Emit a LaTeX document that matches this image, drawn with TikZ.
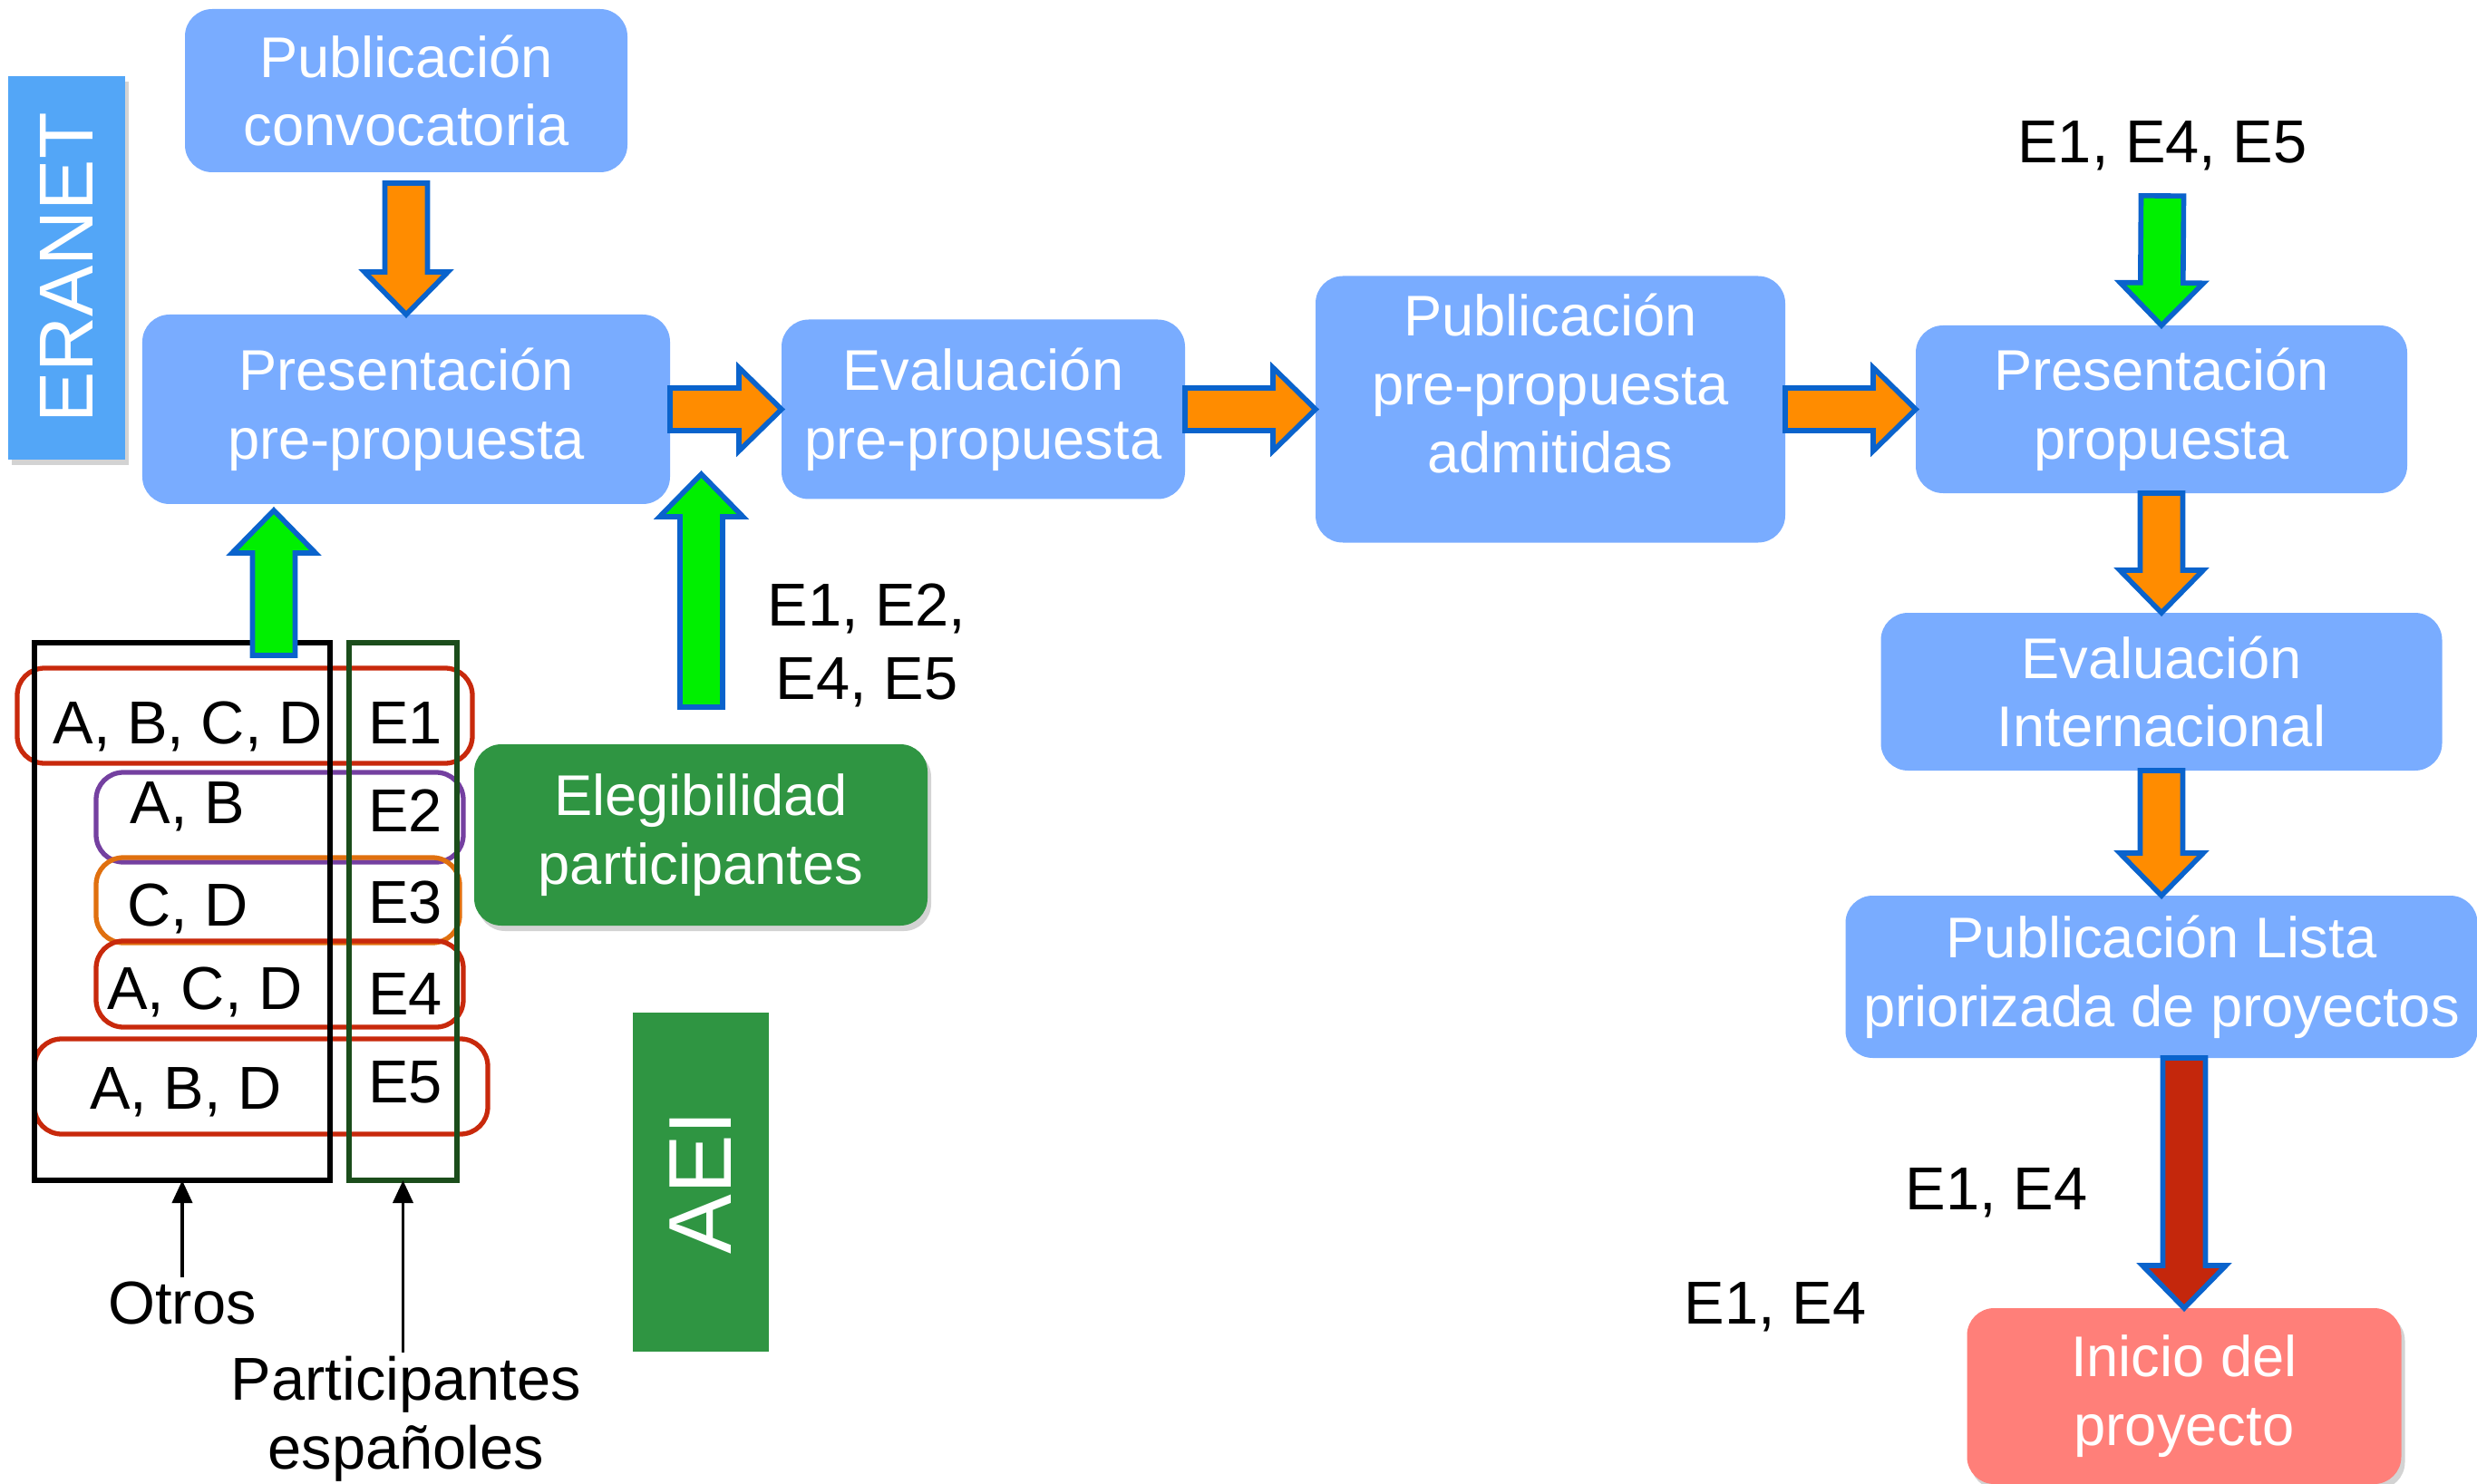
\documentclass[tikz,border=0pt]{standalone}
\usepackage{fontspec}
\setmainfont{Liberation Sans}
\usetikzlibrary{positioning, calc, arrows.meta, shadows}

\definecolor{boxblue}{HTML}{79ACFF}
\definecolor{eranetblue}{HTML}{53A6F7}
\definecolor{aeigreen}{HTML}{2F9542}
\definecolor{iniciored}{HTML}{FF7F79}
\definecolor{arroworange}{HTML}{FF8C00}
\definecolor{arrowgreen}{HTML}{00F000}
\definecolor{arrowred}{HTML}{C4270C}
\definecolor{arrowblue}{HTML}{0A63CC}
\definecolor{grpred}{HTML}{C8290C}
\definecolor{grppurple}{HTML}{7440A0}
\definecolor{grporange}{HTML}{E0700F}
\definecolor{espgreen}{HTML}{1B4D1B}

\newcommand{\arrshaft}{0.235cm}
\newcommand{\arrhead}{0.46cm}
\newcommand{\arrtip}{0.47cm}
% flecha gruesa de (#2) a (#3)
\newcommand{\blockarrow}[3]{%
    \coordinate (ba_base) at ($(#3)!\arrtip!(#2)$);
    \draw[#1] ($(#2)!\arrshaft!90:(#3)$) -- ($(ba_base)!\arrshaft!-90:(#2)$)
        -- ($(ba_base)!\arrhead!-90:(#2)$) -- (#3)
        -- ($(ba_base)!\arrhead!90:(#2)$) -- ($(ba_base)!\arrshaft!90:(#2)$)
        -- ($(#2)!\arrshaft!-90:(#3)$) -- cycle;}

\begin{document}
\begin{tikzpicture}[
    every node/.style={align=center},
    block_blue/.style={
        rectangle,
        fill=boxblue,
        text=white,
        rounded corners=0.3cm,
        inner sep=0pt,
        outer sep=0pt,
        font=\fontsize{18}{21.5}\selectfont
    },
    block_green/.style={
        rectangle,
        fill=aeigreen,
        text=white,
        inner sep=0pt,
        outer sep=0pt,
        font=\fontsize{18}{21.5}\selectfont
    },
    block_red/.style={
        rectangle,
        fill=iniciored,
        text=white,
        rounded corners=0.3cm,
        inner sep=0pt,
        outer sep=0pt,
        font=\fontsize{18}{21.5}\selectfont
    },
    block_side/.style={
        rectangle,
        fill=eranetblue,
        text=white,
        inner sep=0pt,
        outer sep=0pt,
        font=\fontsize{24}{28}\selectfont
    },
    soft_shadow/.style={drop shadow={opacity=0.35, shadow xshift=0.04cm, shadow yshift=-0.06cm}},
    group_box/.style={draw, rounded corners=0.3cm, line width=1.5pt, inner sep=0pt, outer sep=0pt},
    list_box/.style={rectangle, draw, line width=1.5pt, inner sep=0pt, outer sep=0pt},
    tag/.style={font=\fontsize{19}{23}\selectfont, inner sep=1pt},
    arrow_orange/.style={draw=arrowblue, fill=arroworange, line width=1.6pt},
    arrow_green/.style={draw=arrowblue, fill=arrowgreen, line width=1.6pt},
    arrow_red/.style={draw=arrowblue, fill=arrowred, line width=1.6pt},
    arrow/.style={draw, -{Triangle[length=0.25cm, width=0.22cm]}, line width=1.1pt}
]
    \useasboundingbox (0,0) rectangle (27.32,-16.37);

    % cajas del flujo
    \node [block_blue, minimum width=5.82cm, minimum height=2.09cm] (prepres) at (4.48,-4.515)
        {Presentación\\pre-propuesta};
    \node [block_blue, minimum width=4.88cm, minimum height=1.80cm, above=1.57cm of prepres] (conv)
        {Publicación\\convocatoria};
    \node [block_blue, minimum width=4.45cm, minimum height=1.98cm, right=1.23cm of prepres] (evalpre)
        {Evaluación\\pre-propuesta};
    \node [block_blue, minimum width=5.18cm, minimum height=2.94cm, right=1.44cm of evalpre] (pubadm)
        {\raisebox{0.05cm}[0pt][0pt]{\begin{tabular}{@{}c@{}}Publicación\\pre-propuesta\\admitidas\end{tabular}}};
    \node [block_blue, minimum width=5.42cm, minimum height=1.85cm, right=1.44cm of pubadm] (prop)
        {Presentación\\propuesta};
    \node [block_blue, minimum width=6.19cm, minimum height=1.74cm, below=1.32cm of prop] (evalint)
        {Evaluación\\Internacional};
    \node [block_blue, minimum width=6.97cm, minimum height=1.79cm, below=1.38cm of evalint] (lista)
        {Publicación Lista\\priorizada de proyectos};
    \node [block_red, soft_shadow, minimum width=4.79cm, minimum height=1.94cm, below=2.76cm of lista, xshift=0.25cm] (inicio)
        {Inicio del\\proyecto};

    \node [block_side, soft_shadow, minimum width=1.29cm, minimum height=4.23cm] (eranet) at (0.735,-2.955)
        {\rotatebox{90}{ERANET}};
    \node [block_green, soft_shadow, rounded corners=0.3cm, minimum width=5.0cm, minimum height=2.0cm] (eleg) at (7.73,-9.21)
        {Elegibilidad\\participantes};
    \node [block_green, font=\fontsize{28}{32}\selectfont, minimum width=1.5cm, minimum height=3.74cm, below=0.96cm of eleg] (aei)
        {\rotatebox{90}{AEI}};

    % grupos de participantes
    \node [group_box, draw=grpred, minimum width=5.02cm, minimum height=1.05cm] (grp_e1) at (2.70,-7.895) {};
    \node [group_box, draw=grppurple, minimum width=4.05cm, minimum height=0.99cm] (grp_e2) at (3.085,-9.015) {};
    \node [group_box, draw=grporange, minimum width=4.01cm, minimum height=0.94cm] (grp_e3) at (3.065,-9.93) {};
    \node [group_box, draw=grpred, minimum width=4.05cm, minimum height=0.95cm] (grp_e4) at (3.085,-10.855) {};
    \node [group_box, draw=grpred, minimum width=5.0cm, minimum height=1.05cm] (grp_e5) at (2.88,-11.985) {};

    \node [list_box, minimum width=3.26cm, minimum height=5.93cm] (otros) at (2.01,-10.055) {};
    \node [list_box, draw=espgreen, minimum width=1.19cm, minimum height=5.93cm, right=0.21cm of otros] (espan) {};

    \node [tag, anchor=base] (t_abcd) at (2.07,-8.20) {A, B, C, D};
    \node [tag, anchor=base] (t_ab) at (2.07,-9.08) {A, B};
    \node [tag, anchor=base] (t_cd) at (2.07,-10.21) {C, D};
    \node [tag, anchor=base] (t_acd) at (2.26,-11.13) {A, C, D};
    \node [tag, anchor=base] (t_abd) at (2.05,-12.23) {A, B, D};
    \node [tag, anchor=base] (t_e1) at (4.47,-8.20) {E1};
    \node [tag, anchor=base] (t_e2) at (4.47,-9.17) {E2};
    \node [tag, anchor=base] (t_e3) at (4.47,-10.18) {E3};
    \node [tag, anchor=base] (t_e4) at (4.47,-11.19) {E4};
    \node [tag, anchor=base] (t_e5) at (4.47,-12.16) {E5};

    % etiquetas
    \node [tag, anchor=base] (otros_lbl) at (2.01,-14.60) {Otros};
    \node [tag, font=\fontsize{19}{21.5}\selectfont] (espan_lbl) at (4.48,-15.65) {Participantes\\españoles};
    \node [tag] (elig_lbl) at (9.56,-7.12) {E1, E2,\\E4, E5};
    \node [tag, anchor=base] (prop_lbl) at (23.85,-1.795) {E1, E4, E5};
    \node [tag, anchor=base] (lista_lbl) at (22.02,-13.34) {E1, E4};
    \node [tag, anchor=base] (inicio_lbl) at (19.58,-14.60) {E1, E4};

    % flechas
    \coordinate (conv_out) at ($(conv.south)+(0,-0.12)$);
    \coordinate (pre_out) at (prepres.east |- evalpre.west);
    \coordinate (eval_out) at (evalpre.east);
    \coordinate (adm_in) at (pubadm.west |- evalpre.east);
    \coordinate (adm_out) at (pubadm.east |- prop.west);
    \coordinate (prop_in) at ($(prop_lbl.base)+(0,-0.365)$);
    \coordinate (lista_out) at (lista.south -| inicio.north);
    \coordinate (grp_out) at (3.02,-7.23);
    \coordinate (grp_in) at ($(prepres.south -| grp_out)+(0,-0.07)$);
    \coordinate (elig_out) at (7.735,-7.80);
    \coordinate (elig_in) at (7.735,-5.23);

    \blockarrow{arrow_orange}{conv_out}{prepres.north}
    \blockarrow{arrow_orange}{pre_out}{evalpre.west}
    \blockarrow{arrow_orange}{eval_out}{adm_in}
    \blockarrow{arrow_orange}{adm_out}{prop.west}
    \blockarrow{arrow_green}{prop_in}{prop.north}
    \blockarrow{arrow_orange}{prop.south}{evalint.north}
    \blockarrow{arrow_orange}{evalint.south}{lista.north}
    \blockarrow{arrow_red}{lista_out}{inicio.north}
    \blockarrow{arrow_green}{grp_out}{grp_in}
    \blockarrow{arrow_green}{elig_out}{elig_in}

    \draw [arrow] (otros_lbl.north) -- (otros.south);
    \draw [arrow] (espan_lbl.north -| espan.south) -- (espan.south);
\end{tikzpicture}
\end{document}
